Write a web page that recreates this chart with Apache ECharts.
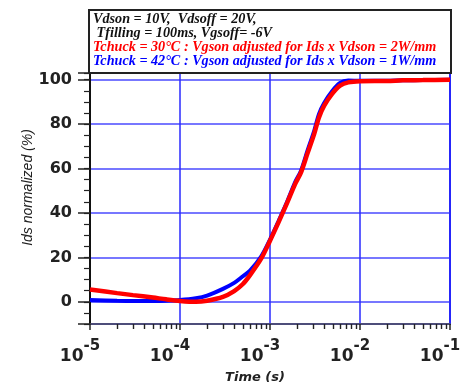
<!DOCTYPE html>
<html>
<head>
<meta charset="utf-8">
<script src="https://cdn.jsdelivr.net/npm/echarts@6/dist/echarts.min.js"></script>
<style>
html,body{margin:0;padding:0;background:#fff;}
#c{width:461px;height:385px;}
</style>
</head>
<body>
<div id="c"></div>
<script>
// ---- data ----
var times = [1e-5, 2e-5, 3e-5, 5e-5, 7e-5, 1e-4, 1.5e-4, 2e-4, 3e-4, 4e-4, 5e-4, 6e-4, 8e-4,
             1e-3, 1.25e-3, 1.55e-3, 1.9e-3, 2.2e-3, 2.6e-3, 3.1e-3, 3.5e-3, 4e-3, 4.9e-3, 6e-3, 7.4e-3,
             1e-2, 2e-2, 3e-2, 5e-2, 1e-1];
var red30 = [5.5, 3.9, 3.0, 1.9, 1.1, 0.4, 0.0, 0.5, 2.2, 4.8, 8.0, 12.0, 19.5,
             27.5, 36.0, 44.5, 53.0, 58.0, 66.6, 75.6, 83.0, 88.3, 93.6, 97.3, 98.8,
             99.3, 99.4, 99.7, 99.8, 100];
var blue42 = [0.8, 0.5, 0.4, 0.4, 0.5, 0.8, 1.6, 2.8, 5.8, 8.5, 11.5, 14.0, 20.5,
              28.0, 36.5, 45.0, 53.8, 58.8, 67.8, 77.0, 84.5, 89.5, 94.8, 98.5, 99.6,
              99.5, 99.5, 99.7, 99.8, 100];
var yTicks = [0, 20, 40, 60, 80, 100];
var legendLines = [
  {text: 'Vdson = 10V,  Vdsoff = 20V,', color: '#111111'},
  {text: ' Tfilling = 100ms, Vgsoff= -6V', color: '#111111'},
  {text: 'Tchuck = 30°C : Vgson adjusted for Ids x Vdson = 2W/mm', color: '#ff0000'},
  {text: 'Tchuck = 42°C : Vgson adjusted for Ids x Vdson = 1W/mm', color: '#0000ff'}
];

function zip(xs, ys){ return xs.map(function(x,i){ return [x, ys[i]]; }); }

var chart = echarts.init(document.getElementById('c'), null, {renderer:'canvas'});

var gfx = [{
  type: 'rect', z: 100,
  shape: {x: 89, y: 10, width: 362, height: 63},
  style: {fill: '#ffffff', stroke: '#222222', lineWidth: 2}
}];
legendLines.forEach(function(l, i){
  gfx.push({
    type: 'text', z: 101, left: 93, top: 12 + i*14,
    style: {text: l.text, fill: l.color, fontFamily: '"Liberation Serif", serif',
            fontStyle: 'italic', fontWeight: 'bold', fontSize: 14.2}
  });
});

chart.setOption({
  animation: false,
  backgroundColor: '#ffffff',
  grid: {left: 90, right: 11, top: 73, bottom: 61, show: true, containLabel: false,
         outerBoundsMode: 'none',
         borderColor: '#0000b0', borderWidth: 2, backgroundColor: 'transparent'},
  graphic: gfx,
  xAxis: {
    type: 'log', logBase: 10, min: 1e-5, max: 1e-1, splitNumber: 4,
    name: 'Time (s)', nameLocation: 'middle', nameGap: 47,
    nameTextStyle: {fontFamily: '"DejaVu Sans", sans-serif', fontStyle: 'italic', fontWeight: 'bold',
                    fontSize: 13, color: '#222', padding: [0, 30, 0, 0]},
    axisLine: {show: true, onZero: false, lineStyle: {color: '#555', width: 1.5}},
    axisTick: {show: true, inside: false, length: 6, lineStyle: {color: '#222', width: 1.5}},
    minorTick: {show: true, splitNumber: 9, length: 5, lineStyle: {color: '#222', width: 1.4}},
    splitLine: {show: true, lineStyle: {color: '#2a2aff', width: 1.5}},
    axisLabel: {
      margin: 15,
      formatter: function(v){
        var e = Math.round(Math.log(v)/Math.LN10);
        return '{b|10}{s|' + e + '}{p| }';
      },
      rich: {
        b: {fontFamily: '"DejaVu Sans", sans-serif', fontWeight: 'bold', fontSize: 17, color: '#222',
            lineHeight: 26, verticalAlign: 'bottom'},
        s: {fontFamily: '"DejaVu Sans", sans-serif', fontWeight: 'bold', fontSize: 15, color: '#222',
            lineHeight: 26, verticalAlign: 'top'},
        p: {width: 20, fontSize: 10, lineHeight: 26}
      }
    }
  },
  yAxis: [{
    type: 'value', min: -10, max: 103, splitNumber: 5, position: 'left',
    name: 'Ids normalized (%)', nameLocation: 'middle', nameGap: 55, nameMoveOverlap: false,
    nameTextStyle: {fontFamily: '"Liberation Sans", sans-serif', fontStyle: 'italic',
                    fontSize: 14, color: '#222', padding: [0, 0, 0, 22]},
    axisLine: {show: true, lineStyle: {color: '#111', width: 2}},
    axisTick: {show: true, length: 12, lineStyle: {color: '#222', width: 1.5}},
    splitLine: {show: true, lineStyle: {color: '#4a4aff', width: 1.5}},
    axisLabel: {
      margin: 18, color: '#222', fontFamily: '"DejaVu Sans", sans-serif', fontWeight: 'bold', fontSize: 16,
      padding: [0, 0, 6, 0],
      formatter: function(v){ return yTicks.indexOf(v) >= 0 ? String(v) : ''; }
    }
  }, {
    type: 'value', min: -10, max: 103, interval: 5, position: 'left',
    axisLine: {show: false},
    axisTick: {show: true, length: 6, lineStyle: {color: '#222', width: 1.2}},
    splitLine: {show: false},
    axisLabel: {show: false}
  }],
  series: [{
    name: 'Tchuck = 42°C', type: 'line', yAxisIndex: 0, data: zip(times, blue42),
    smooth: 0.3, showSymbol: false, symbol: 'none',
    lineStyle: {color: '#0000ff', width: 4}, z: 3
  }, {
    name: 'Tchuck = 30°C', type: 'line', yAxisIndex: 0, data: zip(times, red30),
    smooth: 0.3, showSymbol: false, symbol: 'none',
    lineStyle: {color: '#ff0000', width: 4.5}, z: 4
  }]
});
</script>
</body>
</html>
